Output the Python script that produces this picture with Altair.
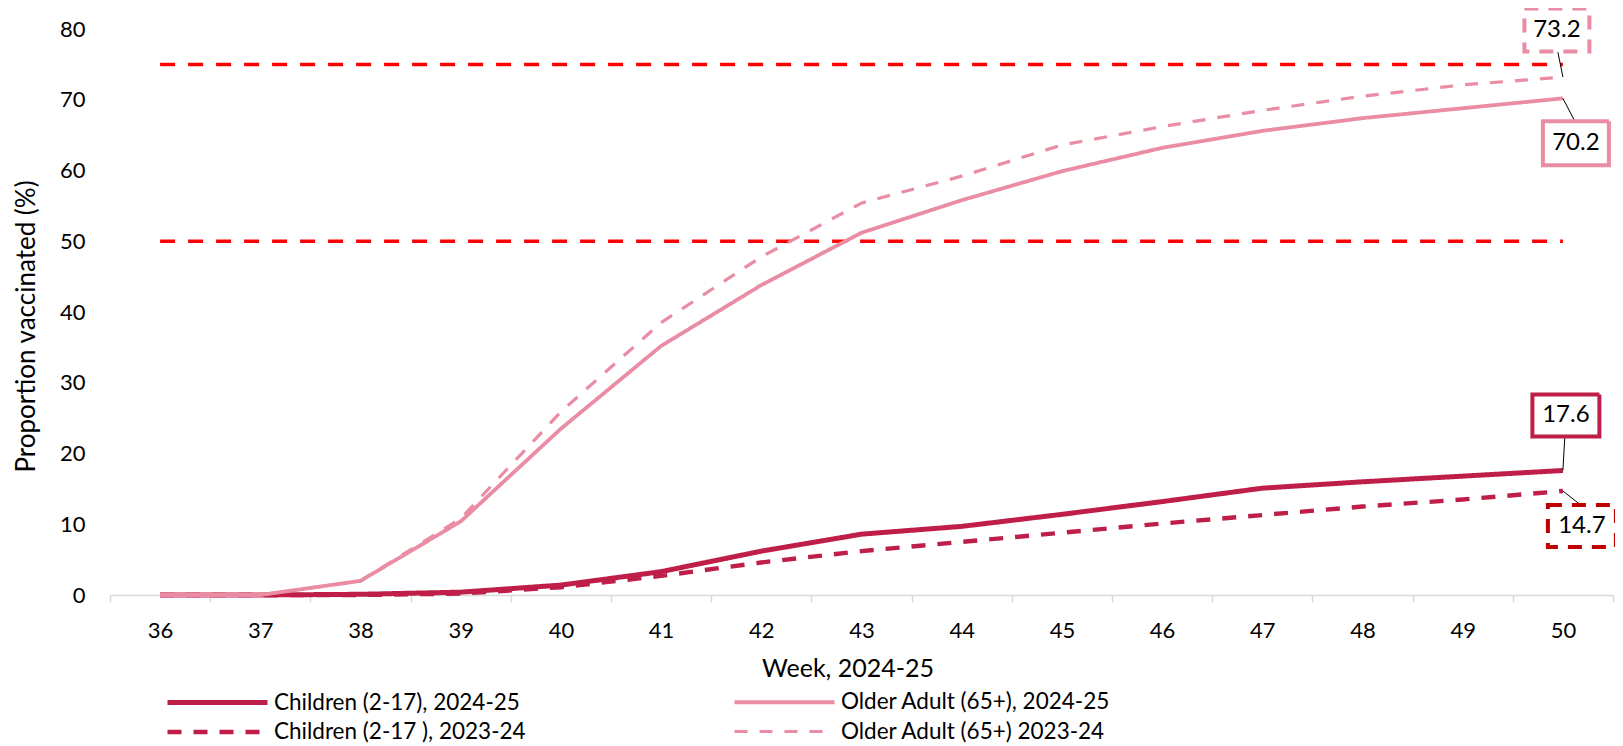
import altair as alt
import pandas as pd

# ---------------- data ----------------
weeks = list(range(36, 51))
children_2425 = [0.0, 0.0, 0.1, 0.4, 1.4, 3.3, 6.2, 8.6, 9.7, 11.4, 13.2, 15.1, 16.0, 16.8, 17.6]
children_2324 = [0.0, 0.0, 0.0, 0.2, 1.1, 2.7, 4.6, 6.2, 7.5, 8.8, 10.1, 11.3, 12.5, 13.5, 14.7]
older_2425 = [0.0, 0.0, 2.0, 10.4, 23.5, 35.2, 43.8, 51.2, 55.8, 59.9, 63.2, 65.6, 67.4, 68.8, 70.2]
older_2324 = [0.0, 0.0, 2.0, 10.8, 25.9, 38.5, 47.8, 55.4, 59.2, 63.6, 66.2, 68.5, 70.5, 72.1, 73.2]
targets = [50, 75]

series_names = [
    "Children (2-17), 2024-25",
    "Children (2-17 ), 2023-24",
    "Older Adult (65+), 2024-25",
    "Older Adult (65+) 2023-24",
]
series_values = [children_2425, children_2324, older_2425, older_2324]

# ---------------- styles ----------------
CRIMSON = "#BE1E48"
PINK = "#EA8CA3"
RED = "#FF0000"
DARKRED = "#C00000"
GREY = "#D9D9D9"
FONT = "Lato"

series_colors = [CRIMSON, CRIMSON, PINK, PINK]
series_dashes = [[1, 0], [14, 12], [1, 0], [13, 12]]
series_widths = [5, 3.2, 3, 3.2]

rows = []
for name, vals in zip(series_names, series_values):
    for w, v in zip(weeks, vals):
        rows.append({"week": w, "value": v, "series": name})
df = pd.DataFrame(rows)

target_df = pd.DataFrame([{"week": w, "value": t, "target": str(t)} for t in targets for w in weeks])

x_values = [w - 0.5 for w in weeks] + weeks + [weeks[-1] + 0.5]
x_scale = alt.Scale(domain=[weeks[0] - 0.5, weeks[-1] + 0.5], nice=False, zero=False)
y_scale = alt.Scale(domain=[0, 80], nice=False)

PLOT_W, PLOT_H = 1503, 566

x_axis = alt.Axis(
    values=x_values,
    labelExpr="datum.value % 1 == 0 ? format(datum.value, 'd') : ''",
    tickOpacity={"expr": "datum.value % 1 == 0 ? 0 : 1"},
    ticks=True, tickSize=7, tickColor=GREY, tickWidth=1.5,
    domain=True, domainColor=GREY, domainWidth=1.5,
    grid=False, labelOverlap=False,
    labelFont=FONT, labelFontSize=22, labelColor="black",
    labelBaseline="middle", labelPadding=28,
    title="Week, 2024-25", titleFont=FONT, titleFontSize=25,
    titleFontWeight="normal", titleColor="black", titleY=73, titleBaseline="middle",
    titleX=PLOT_W / 2 - 14, titleAlign="center",
)
y_axis = alt.Axis(
    values=list(range(0, 81, 10)),
    ticks=False, tickSize=0, domain=False, grid=False,
    labelFont=FONT, labelFontSize=22, labelColor="black", labelPadding=25,
    title="Proportion vaccinated (%)", titleFont=FONT, titleFontSize=26,
    titleFontWeight="normal", titleColor="black", titleX=-84, titleBaseline="middle",
    titleY=PLOT_H / 2 + 14, titleAlign="center",
)

# legend symbol: horizontal line ~100px long drawn with a small symbol size
SYM_SIZE = 400  # sqrt -> 20, path scale r = 10
legend = alt.Legend(
    orient="none", legendX=95, legendY=661, columns=2, title=None,
    symbolType="M-5,0H5", symbolSize=SYM_SIZE,
    labelFont=FONT, labelFontSize=22.5, labelColor="black", labelOffset=44, labelLimit=0,
    columnPadding=200, rowPadding=5.5,
)

targets_layer = alt.Chart(target_df).mark_line(
    color=RED, strokeDash=[15, 13], strokeWidth=3.5
).encode(
    x=alt.X("week:Q", scale=x_scale, axis=x_axis),
    y=alt.Y("value:Q", scale=y_scale, axis=y_axis),
    detail="target:N",
)

lines = alt.Chart(df).mark_line(strokeJoin="round").encode(
    x=alt.X("week:Q", scale=x_scale),
    y=alt.Y("value:Q", scale=y_scale),
    color=alt.Color("series:N", scale=alt.Scale(domain=series_names, range=series_colors), legend=legend),
    strokeDash=alt.StrokeDash("series:N", scale=alt.Scale(domain=series_names, range=series_dashes), legend=legend),
    strokeWidth=alt.StrokeWidth("series:N", scale=alt.Scale(domain=series_names, range=series_widths), legend=legend),
)

# end-of-line value labels (box offset dx,dy ; box w,h ; colour ; dash ; leader end offset)
label_cfg = [
    ("Older Adult (65+) 2023-24", -6, -47, 65, 43, PINK, [14, 10], -5, -25),
    ("Older Adult (65+), 2024-25", 13, 45, 66, 44, PINK, [1, 0], 12, 23),
    ("Children (2-17), 2024-25", 3, -55, 67, 42, CRIMSON, [1, 0], 2, -35),
    ("Children (2-17 ), 2023-24", 19, 35, 68, 42, DARKRED, [14, 10], 19, 15),
]

end_df = df[df["week"] == weeks[-1]].copy()
end_df["label"] = end_df["value"].map(lambda v: f"{v:.1f}")

label_layers = []
for name, dx, dy, bw, bh, col, dash, lx, ly in label_cfg:
    base = alt.Chart(end_df).transform_filter(alt.datum.series == name)
    r = bh / bw
    path = f"M-1,-{r:.4f} L1,-{r:.4f} L1,{r:.4f} L-1,{r:.4f} Z"
    leader = base.mark_rule(color="black", strokeWidth=1, x2Offset=lx, y2Offset=ly).encode(
        x=alt.X("week:Q", scale=x_scale), x2="week:Q",
        y=alt.Y("value:Q", scale=y_scale), y2="value:Q",
    )
    box = base.mark_point(
        shape=path, size=bw * bw, filled=True, fill="white", stroke=col,
        strokeWidth=4, strokeDash=dash, opacity=1, xOffset=dx, yOffset=dy,
    ).encode(x=alt.X("week:Q", scale=x_scale), y=alt.Y("value:Q", scale=y_scale))
    txt = base.mark_text(
        font=FONT, fontSize=24, color="black", dx=dx, dy=dy, baseline="middle", align="center",
    ).encode(x=alt.X("week:Q", scale=x_scale), y=alt.Y("value:Q", scale=y_scale), text="label:N")
    label_layers += [leader, box, txt]

chart = alt.layer(targets_layer, lines, *label_layers).properties(
    width=PLOT_W, height=PLOT_H,
    padding={"left": 102, "top": 21, "right": 2, "bottom": 150},
    autosize=alt.AutoSizeParams(type="none"),
    background="white",
).configure_view(stroke=None)

chart.save("out.html", embed_options={"renderer": "svg", "actions": False})
